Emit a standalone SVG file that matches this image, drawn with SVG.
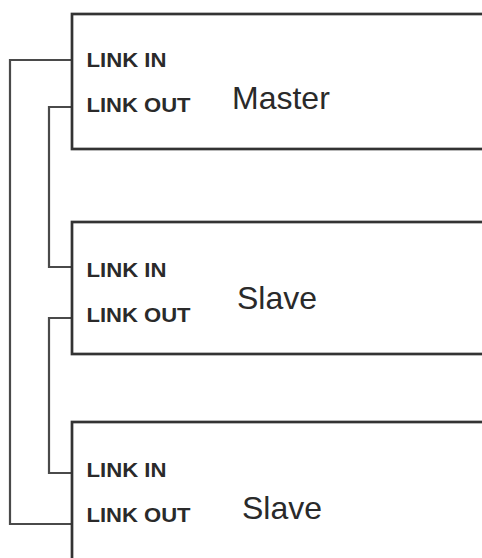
<svg xmlns="http://www.w3.org/2000/svg" width="482" height="558" viewBox="0 0 482 558">
  <style>
    .box { fill: #ffffff; stroke: #333333; stroke-width: 2.7; }
    .wire { fill: none; stroke: #4a4a4a; stroke-width: 2.2; stroke-linejoin: miter; }
    .port { font-family: "Liberation Sans", Arial, sans-serif; font-weight: bold; font-size: 20px; fill: #2a2a2a; }
    .role { font-family: "Liberation Sans", Arial, sans-serif; font-size: 32px; fill: #2a2a2a; }
  </style>
  <rect width="482" height="558" fill="#ffffff"/>

  <!-- link cabling between units -->
  <g id="connectors">
    <!-- master LINK IN back from last slave LINK OUT -->
    <polyline class="wire" points="72,60 10,60 10,524 72,524"/>
    <!-- master LINK OUT to first slave LINK IN -->
    <polyline class="wire" points="72,107 49,107 49,267 72,267"/>
    <!-- first slave LINK OUT to second slave LINK IN -->
    <polyline class="wire" points="72,318 49,318 49,473 72,473"/>
  </g>

  <g id="master">
    <rect class="box" x="72" y="14" width="420" height="135"/>
    <text class="port" x="86.5" y="67" textLength="80" lengthAdjust="spacingAndGlyphs">LINK IN</text>
    <text class="port" x="86.5" y="112" textLength="104" lengthAdjust="spacingAndGlyphs">LINK OUT</text>
    <text class="role" x="232" y="109">Master</text>
  </g>

  <g id="slave1">
    <rect class="box" x="72" y="222" width="420" height="132"/>
    <text class="port" x="86.5" y="277" textLength="80" lengthAdjust="spacingAndGlyphs">LINK IN</text>
    <text class="port" x="86.5" y="322" textLength="104" lengthAdjust="spacingAndGlyphs">LINK OUT</text>
    <text class="role" x="237" y="309">Slave</text>
  </g>

  <g id="slave2">
    <rect class="box" x="72" y="422" width="420" height="150"/>
    <text class="port" x="86.5" y="477" textLength="80" lengthAdjust="spacingAndGlyphs">LINK IN</text>
    <text class="port" x="86.5" y="522" textLength="104" lengthAdjust="spacingAndGlyphs">LINK OUT</text>
    <text class="role" x="242" y="519">Slave</text>
  </g>
</svg>
